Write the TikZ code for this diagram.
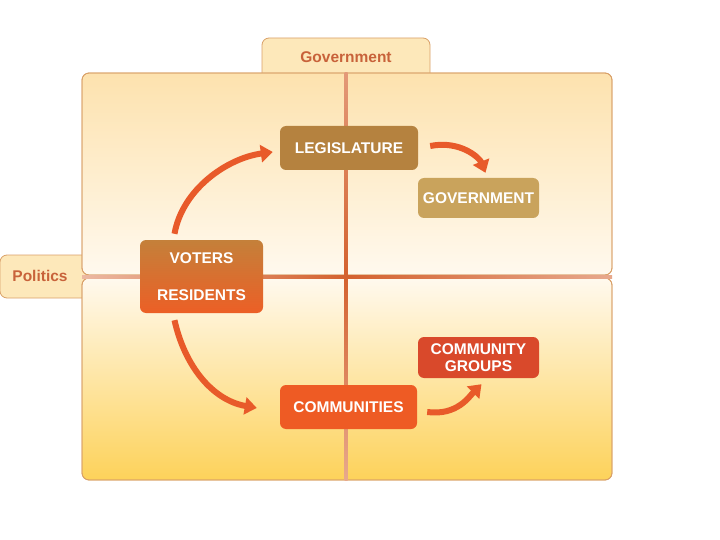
\documentclass[tikz,border=0pt]{standalone}
\usepackage{fontspec}
\setmainfont{Liberation Sans}
\usetikzlibrary{arrows.meta,calc}
\definecolor{tabfill}{HTML}{FDE8BA}
\definecolor{tabdraw}{HTML}{D9A068}
\definecolor{tabtext}{HTML}{C8623A}
\definecolor{paneltop}{HTML}{FDE2AE}
\definecolor{panelmid}{HTML}{FFF9EE}
\definecolor{panelbot}{HTML}{FDD25A}
\definecolor{legcol}{HTML}{B5823F}
\definecolor{govcol}{HTML}{C9A35C}
\definecolor{vrtop}{HTML}{C4803A}
\definecolor{vrbot}{HTML}{EC5F26}
\definecolor{comcol}{HTML}{EE5B24}
\definecolor{cgcol}{HTML}{D9492B}
\definecolor{arrcol}{HTML}{E85A2A}
\definecolor{linecol}{HTML}{D4622F}
\tikzset{
  tabbox/.style={draw=tabdraw, fill=tabfill, line width=0.8pt},
  tablabel/.style={text=tabtext, font=\bfseries\fontsize{15.5}{17}\selectfont},
  panel/.style={draw=tabdraw, line width=0.8pt, rounded corners=7pt},
  boxnode/.style={rounded corners=6pt, text=white, align=center,
    font=\bfseries\fontsize{15.5}{17}\selectfont, inner sep=0pt},
  arr/.style={draw=arrcol, line width=6pt,
    -{Triangle[width=17pt,length=12pt]}}
}
\begin{document}
\begin{tikzpicture}[x=1pt,y=-1pt]
\useasboundingbox (0,0) rectangle (720,540);
% tabs
\draw[tabbox, rounded corners=7pt] (262,80) -- (262,38) -- (430,38) -- (430,80);
\node[tablabel] (govtab) at (346,57) {Government};
\draw[tabbox, rounded corners=7pt] (90,255) -- (0,255) -- (0,298) -- (90,298);
\node[tablabel] (poltab) at (40,276) {Politics};
% panels
\shade[panel, top color=paneltop, bottom color=panelmid] (82,73) rectangle (612,275);
\draw[panel] (82,73) rectangle (612,275);
\shade[panel, top color=panelmid, bottom color=panelbot] (82,278) rectangle (612,480);
\draw[panel] (82,278) rectangle (612,480);
% divider lines
\shade[left color=linecol!45, right color=linecol!55, middle color=linecol] (82,275) rectangle (612,278);
\shade[top color=linecol!65, bottom color=linecol!55, middle color=linecol] (344.5,73) rectangle (347.5,480);
% nodes
\node[boxnode, fill=legcol, minimum width=138pt, minimum height=44pt] (leg) at (349,148) {LEGISLATURE};
\node[boxnode, fill=govcol, minimum width=121pt, minimum height=40pt] (gov) at (478.5,198) {GOVERNMENT};
\node[boxnode, top color=vrtop, bottom color=vrbot, minimum width=123pt, minimum height=73pt] (vr) at (201.5,276.5) {VOTERS\\[20pt]RESIDENTS};
\node[boxnode, fill=comcol, minimum width=137pt, minimum height=44pt] (com) at (348.5,407) {COMMUNITIES};
\node[boxnode, fill=cgcol, minimum width=121pt, minimum height=41pt] (cg) at (478.5,357.5) {COMMUNITY\\GROUPS};
% arrows
\draw[arr] ($(vr.north)+(-27,-6)$) .. controls +(8,-45) and +(-45,6) .. ($(leg.west)+(-7,4)$);
\draw[arr] ($(vr.south)+(-27,7)$) .. controls +(10,45) and +(-45,-8) .. ($(com.west)+(-23,1)$);
\draw[arr] ($(leg.east)+(12,-2)$) .. controls +(30,-6) and +(-6,-15) .. ($(gov.north)+(7,-5)$);
\draw[arr] ($(com.east)+(10,5)$) .. controls +(30,4) and +(-12,12) .. ($(cg.south)+(3,6)$);
\end{tikzpicture}
\end{document}
